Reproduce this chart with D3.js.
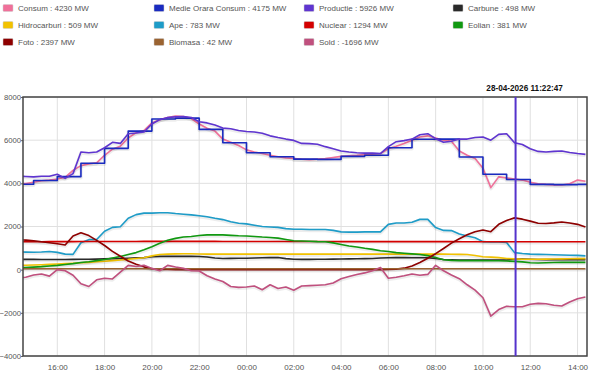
<!DOCTYPE html>
<html><head><meta charset="utf-8">
<script src="https://cdn.jsdelivr.net/npm/d3@7"></script>
<style>
html,body{margin:0;padding:0;background:#fff;}
svg{display:block;font-family:"Liberation Sans",Arial,sans-serif;}
</style></head>
<body>
<svg id="chart" width="606" height="380"></svg>
<script>
// ---- DATA ----
// 20-minute samples from 27-04-2026 14:20 to 28-04-2026 14:20
const startTime = new Date(2026, 3, 27, 14, 20);
const stepMinutes = 20;
const consum = [3980,3990,4050,4120,4150,4200,4280,4600,4820,4900,4950,5300,5580,5720,6100,6350,6450,6800,6950,7050,7120,7100,7000,6750,6550,6420,6050,5900,5750,5550,5450,5380,5300,5230,5180,5150,5120,5100,5120,5150,5200,5250,5280,5300,5330,5350,5380,5600,5720,5850,6000,6150,6200,6100,6000,5950,5500,5300,5150,4700,3800,4300,4250,4200,4150,4050,3980,3950,3930,3920,3980,4150,4100];
const productie = [4330,4320,4300,4330,4330,4420,4230,4450,5450,5420,5450,5650,5900,5850,6300,6330,6380,6750,6950,7050,7080,7100,7050,6850,6800,6700,6560,6530,6450,6400,6380,6320,6200,6120,6050,5990,5850,5840,5810,5700,5600,5500,5450,5420,5400,5400,5380,5700,5930,5980,6050,6250,6300,6070,5900,5950,6050,6050,6120,6150,6000,6270,6300,5880,5800,5600,5480,5450,5480,5500,5430,5380,5340];
const carbune = [480,478,475,470,470,470,472,475,480,485,490,500,510,520,530,545,560,600,615,615,615,615,615,610,590,540,520,525,530,530,540,550,560,560,510,480,475,478,480,485,490,495,500,505,510,520,540,555,560,560,555,550,550,520,470,460,450,445,440,440,440,445,450,495,490,480,470,465,465,465,465,465,465];
const hidrocarburi = [200,205,215,230,245,260,280,300,320,340,365,390,420,450,480,520,555,640,700,720,730,735,740,725,722,720,720,718,720,722,720,718,720,720,722,720,718,720,720,722,720,720,718,720,722,720,720,718,720,722,720,720,718,720,720,715,710,700,660,600,580,560,520,500,480,480,480,490,495,500,505,510,510];
const ape = [820,815,810,820,840,800,720,710,1250,1390,1400,1780,1960,1990,2380,2550,2620,2620,2640,2640,2600,2570,2540,2500,2450,2380,2320,2220,2150,2120,2060,2000,1980,1960,1900,1870,1870,1860,1860,1860,1820,1750,1740,1740,1750,1750,1750,2100,2160,2160,2200,2330,2330,1950,1820,1810,1650,1560,1480,1300,1280,1280,1260,790,750,720,710,700,690,680,670,660,640];
const nuclear = [1290,1290,1295,1295,1300,1300,1300,1300,1305,1305,1305,1305,1305,1308,1308,1308,1310,1310,1310,1310,1310,1310,1310,1310,1310,1310,1308,1308,1308,1305,1305,1305,1305,1305,1305,1305,1305,1305,1305,1305,1305,1300,1300,1300,1300,1300,1300,1300,1300,1300,1300,1300,1300,1300,1300,1300,1295,1295,1295,1295,1295,1295,1294,1294,1292,1292,1290,1290,1290,1290,1290,1290,1290];
const eolian = [90,100,120,140,170,200,240,280,330,370,420,470,540,610,700,790,920,1060,1220,1360,1450,1510,1540,1580,1610,1620,1610,1590,1570,1560,1540,1510,1490,1460,1400,1340,1330,1320,1300,1290,1240,1170,1100,1050,990,940,880,840,790,760,730,700,650,560,460,430,420,420,420,420,415,410,400,385,360,320,310,320,330,340,340,340,340];
const foto = [1390,1370,1340,1290,1250,1200,1140,1560,1710,1580,1360,1120,850,620,400,250,130,40,15,5,0,0,0,0,0,0,0,0,0,0,0,0,0,0,0,0,0,0,0,0,0,0,0,0,0,0,0,10,25,70,170,330,530,740,980,1230,1430,1620,1760,1840,1760,2100,2280,2400,2340,2250,2150,2140,2170,2210,2160,2100,1980];
const biomasa = [44,44,45,45,44,44,43,43,44,45,45,44,44,43,43,42,42,43,43,44,44,44,43,43,42,42,42,43,43,43,44,44,44,43,43,42,42,42,42,43,43,43,44,44,44,43,43,42,42,42,42,43,43,43,42,42,42,42,42,42,42,42,42,42,42,42,42,42,42,42,42,42,42];
const sold = [-380,-350,-250,-200,-300,0,-50,-260,-650,-780,-470,-400,-430,-110,200,150,200,60,-50,200,120,60,-50,-60,-280,-430,-550,-780,-820,-800,-760,-930,-700,-870,-800,-950,-760,-740,-720,-700,-620,-420,-320,-220,-150,-50,100,-400,-350,-280,-200,-260,-220,200,-50,-250,-420,-700,-950,-1300,-2150,-1850,-1700,-1720,-1720,-1600,-1560,-1580,-1650,-1680,-1500,-1350,-1270];
// hourly average consumption, hours from 27-04 14:00 to 28-04 14:00
const medieStart = new Date(2026, 3, 27, 14, 0);
const medieOrara = [3960,4130,4310,4930,5620,6420,6980,7020,6500,5880,5420,5230,5120,5110,5250,5300,5650,6040,6050,5220,4420,4175,3950,3940,3950];

const seriesNames = ["Consum","Medie Orara Consum","Productie","Carbune","Hidrocarburi","Ape","Nuclear","Eolian","Foto","Biomasa","Sold"];
const seriesColors = ["#f0709a","#1a2bc0","#5f35d0","#2a2a2a","#f2c200","#1e9cc8","#d40000","#119911","#8e0000","#9a6331","#c0507e"];
const legendValues = [4230,4175,5926,498,509,783,1294,381,2397,42,-1696];
const yTicks = [-4000,-2000,0,2000,4000,6000,8000];
const cursorTime = new Date(2026, 3, 28, 11, 22, 47);
const cursorLabel = "28-04-2026 11:22:47";

// ---- BUILD ----
const times = consum.map((_, i) => new Date(startTime.getTime() + i * stepMinutes * 60000));
const medieTimes = medieOrara.map((_, i) => new Date(medieStart.getTime() + i * 3600000));
const valuesByName = {
  "Consum": consum, "Productie": productie, "Carbune": carbune, "Hidrocarburi": hidrocarburi,
  "Ape": ape, "Nuclear": nuclear, "Eolian": eolian, "Foto": foto, "Biomasa": biomasa, "Sold": sold
};

const svg = d3.select("#chart");
const FONT = "Liberation Sans, Arial, sans-serif";
const L = 23, R = 587, T = 97, B = 356;
const x = d3.scaleTime()
  .domain([new Date(2026, 3, 27, 14, 33), new Date(2026, 3, 28, 14, 24)])
  .range([L, R]);
const y = d3.scaleLinear().domain([-4000, 8000]).range([B, T]);

// legend
const legend = svg.append("g");
const colX = [3, 154, 304, 453];
seriesNames.forEach((name, i) => {
  const c = i % 4, r = Math.floor(i / 4);
  const g = legend.append("g").attr("transform", `translate(${colX[c]},${8 + r * 17})`);
  g.append("rect").attr("x", 0).attr("y", -3.5).attr("width", 10).attr("height", 7)
    .attr("rx", 1).attr("fill", seriesColors[i]).attr("stroke", "#ccc").attr("stroke-width", 0.5);
  g.append("text").attr("x", 15).attr("y", 3).attr("font-size", 8).attr("fill", "#555")
    .text(`${name} : ${legendValues[i]} MW`);
});

// grid
const xTickVals = x.ticks(d3.timeHour.every(2));
svg.append("g").selectAll("line").data(xTickVals).join("line")
  .attr("x1", d => x(d)).attr("x2", d => x(d)).attr("y1", T).attr("y2", B)
  .attr("stroke", "#e0e0e0").attr("stroke-width", 1);
svg.append("g").selectAll("line").data(yTicks).join("line")
  .attr("x1", L).attr("x2", R).attr("y1", d => y(d)).attr("y2", d => y(d))
  .attr("stroke", "#e0e0e0").attr("stroke-width", 1);

// axes labels
const xAxis = d3.axisBottom(x).tickValues(xTickVals).tickFormat(d3.timeFormat("%H:%M")).tickSize(0).tickPadding(8);
const gx = svg.append("g").attr("transform", `translate(0,${B})`).call(xAxis);
gx.select(".domain").remove();
gx.selectAll("text").attr("font-size", 8).attr("fill", "#555").attr("font-family", FONT);
const yAxis = d3.axisLeft(y).tickValues(yTicks).tickFormat(d3.format("d")).tickSize(2).tickPadding(0);
const gy = svg.append("g").attr("transform", `translate(${L},0)`).call(yAxis);
gy.select(".domain").remove();
gy.selectAll(".tick line").attr("stroke", "#666");
gy.selectAll("text").attr("font-size", 7.7).attr("fill", "#555").attr("font-family", FONT);

// clip
svg.append("clipPath").attr("id", "clip").append("rect")
  .attr("x", L).attr("y", T).attr("width", R - L).attr("height", B - T);
const plot = svg.append("g").attr("clip-path", "url(#clip)");

const line = d3.line().x(d => x(d[0])).y(d => y(d[1]));
const stepLine = d3.line().x(d => x(d[0])).y(d => y(d[1])).curve(d3.curveStepAfter);

seriesNames.forEach((name, i) => {
  let path, data;
  if (name === "Medie Orara Consum") {
    data = medieTimes.map((t, k) => [t, medieOrara[k]]);
    // hold the last hourly value until the end of the visible window
    data.push([x.domain()[1], medieOrara[medieOrara.length - 1]]);
    path = stepLine(data);
  } else {
    data = times.map((t, k) => [t, valuesByName[name][k]]);
    path = line(data);
  }
  plot.append("path").attr("d", path).attr("fill", "none")
    .attr("stroke", "#000").attr("stroke-opacity", 0.07).attr("stroke-width", 3.5)
    .attr("transform", "translate(0,1)").attr("stroke-linejoin", "round");
  plot.append("path").attr("d", path).attr("fill", "none")
    .attr("stroke", seriesColors[i]).attr("stroke-width", 1.6).attr("stroke-linejoin", "round");
});

// frame
svg.append("rect").attr("x", L).attr("y", T).attr("width", R - L).attr("height", B - T)
  .attr("fill", "none").attr("stroke", "#444").attr("stroke-width", 1.5);

// cursor
svg.append("line").attr("x1", x(cursorTime)).attr("x2", x(cursorTime)).attr("y1", T).attr("y2", B)
  .attr("stroke", "#5533cc").attr("stroke-width", 2);
svg.append("text").attr("x", x(cursorTime) + 9).attr("y", 91).attr("text-anchor", "middle")
  .attr("font-size", 8.2).attr("font-weight", "bold").attr("fill", "#111").text(cursorLabel);
</script>
</body></html>
